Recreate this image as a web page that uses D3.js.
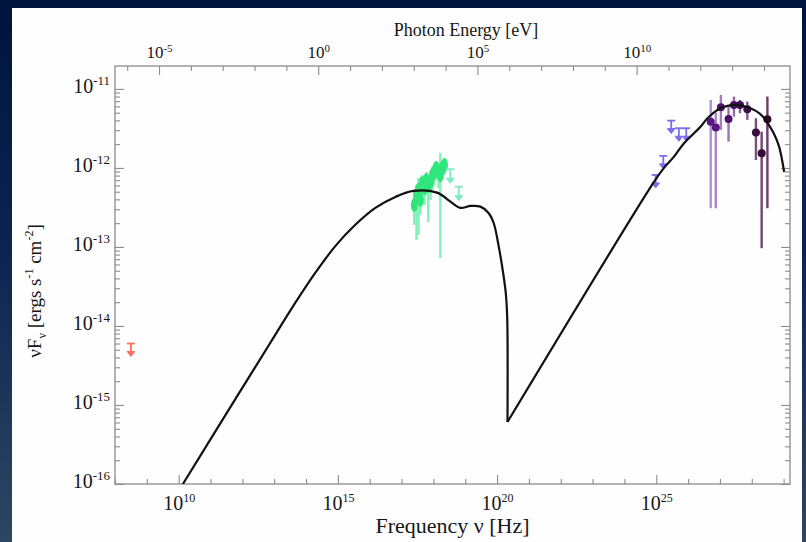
<!DOCTYPE html>
<html><head><meta charset="utf-8">
<script src="https://cdn.jsdelivr.net/npm/d3@7"></script>
<style>
html,body{margin:0;padding:0;}
body{width:806px;height:542px;overflow:hidden;background:linear-gradient(to bottom,#00143c 0%,#0a2450 45%,#2e4663 100%);}
svg{display:block;}
</style></head><body>
<svg id="c" width="806" height="542"></svg>
<script>
// ---------- DATA ----------
// SED model curve (log10 nu [Hz], log10 nuFnu [erg s^-1 cm^-2])
const syncLogNu = [10.0, 10.148, 11.827, 12.874, 13.660, 14.289, 14.918, 15.547, 16.176, 16.805, 17.371, 18.116, 18.535, 18.849, 19.164, 19.478, 19.739, 19.896, 20.053, 20.192, 20.274, 20.318, 20.327];
const syncLogF  = [-16.09, -15.991, -14.895, -14.215, -13.709, -13.329, -12.990, -12.720, -12.506, -12.367, -12.291, -12.313, -12.427, -12.505, -12.481, -12.490, -12.573, -12.700, -12.996, -13.333, -13.586, -13.882, -15.215];
const icLogNu = [20.327, 24.928, 25.242, 25.557, 25.871, 26.186, 26.396, 26.607, 26.921, 27.236, 27.550, 27.865, 28.126, 28.346, 28.535, 28.692, 28.858, 29.016];
const icLogF  = [-15.215, -12.177, -12.000, -11.857, -11.687, -11.561, -11.477, -11.371, -11.266, -11.215, -11.203, -11.232, -11.278, -11.348, -11.456, -11.563, -11.730, -12.051];

// radio upper limit
const radioNu = [3.16e8];
const radioF  = [6.0e-15];

// X-ray data (green)
const xrayNu = [2.51e17, 2.95e17, 3.39e17, 3.89e17, 4.47e17, 5.25e17, 6.03e17, 6.92e17, 8.13e17, 9.33e17, 1.07e18, 1.23e18, 1.45e18, 1.66e18, 1.91e18, 2.24e18];
const xrayF  = [3.40e-13, 4.55e-13, 5.27e-13, 3.94e-13, 6.46e-13, 5.58e-13, 7.05e-13, 5.92e-13, 6.65e-13, 8.15e-13, 8.89e-13, 1.00e-12, 8.89e-13, 8.15e-13, 1.00e-12, 1.09e-12];
const xrayHi = [5.27e-13, 6.10e-13, 7.46e-13, 5.92e-13, 8.15e-13, 7.46e-13, 8.89e-13, 7.92e-13, 8.89e-13, 1.03e-12, 1.09e-12, 1.19e-12, 1.16e-12, 1.55e-12, 1.26e-12, 1.34e-12];
const xrayLo = [1.90e-13, 1.23e-13, 1.42e-13, 2.54e-13, 3.94e-13, 3.40e-13, 4.55e-13, 2.07e-13, 3.94e-13, 5.27e-13, 6.10e-13, 7.05e-13, 5.58e-13, 7.26e-14, 7.46e-13, 8.15e-13];

// hard X-ray upper limits (teal)
const hxNu = [3.39e18, 6.31e18];
const hxF  = [9.64e-13, 5.79e-13];

// GeV upper limits (blue)
const gevNu = [9.55e24, 1.66e25, 2.95e25, 5.13e25, 8.71e25];
const gevF  = [8.15e-13, 1.42e-12, 3.97e-12, 3.18e-12, 3.18e-12];

// TeV data (purple)
const tevNu = [5.13e26, 7.41e26, 1.07e27, 1.86e27, 2.75e27, 4.27e27, 7.24e27, 1.35e28, 2.04e28, 3.09e28];
const tevF  = [3.85e-12, 3.24e-12, 5.86e-12, 4.17e-12, 6.27e-12, 6.27e-12, 5.53e-12, 2.80e-12, 1.53e-12, 4.13e-12];
const tevHi = [7.26e-12, 4.97e-12, 8.39e-12, 5.97e-12, 8.00e-12, 7.26e-12, 6.90e-12, 4.26e-12, 2.88e-12, 8.00e-12];
const tevLo = [3.09e-13, 3.09e-13, 3.03e-12, 2.15e-12, 4.46e-12, 4.92e-12, 4.06e-12, 1.26e-12, 9.64e-14, 3.09e-13];

// ticks
const xLabelExps = [10, 15, 20, 25];
const eLabelExps = [-5, 0, 5, 10];
const yLabelExps = [-16, -15, -14, -13, -12, -11];

const H_EV = 4.135667e-15; // eV s

// ---------- LAYOUT ----------
const L = 115, R = 790, T = 66, B = 484;
const serif = "'Liberation Serif','Times New Roman',Times,serif";
const ink = "#161616";

const svg = d3.select("#c");
const defs = svg.append("defs");
defs.append("clipPath").attr("id","plotclip").append("rect")
  .attr("x",L).attr("y",T).attr("width",R-L).attr("height",B-T);

// white panel
svg.append("rect").attr("x",12).attr("y",8).attr("width",790).attr("height",540).attr("fill","#fefefe");

const x = d3.scaleLog().domain([1e8, Math.pow(10,29.2)]).range([L,R]);
const xE = d3.scaleLog().domain([1e8*H_EV, Math.pow(10,29.2)*H_EV]).range([L,R]);
const y = d3.scaleLog().domain([1e-16, Math.pow(10,-10.71)]).range([B,T]);

function decadesIn(d){
  const out=[]; const a=Math.ceil(Math.log10(d[0])-1e-9), b=Math.floor(Math.log10(d[1])+1e-9);
  for(let e=a;e<=b;e++) out.push(e); return out;
}
function supLabel(sel, exp, base, sup, supDy){
  sel.text(null);
  sel.append("tspan").text("10").attr("font-size",base);
  sel.append("tspan").text(String(exp)).attr("font-size",sup).attr("dy",supDy);
}
const axisColor = "#8c8c8c";
function styleAxis(g){
  g.select(".domain").remove();
  g.selectAll(".tick line").attr("stroke",axisColor).attr("stroke-width",1.1);
  g.selectAll(".tick text").attr("fill",ink).attr("font-family",serif);
}

// bottom axis
const xAll = decadesIn(x.domain());
const xMinor = xAll.filter(e=>!xLabelExps.includes(e)).map(e=>Math.pow(10,e));
const gxm = svg.append("g").attr("transform",`translate(0,${B})`)
  .call(d3.axisBottom(x).tickValues(xMinor).tickSize(-5).tickSizeOuter(0).tickFormat(()=>""));
styleAxis(gxm);
const gx = svg.append("g").attr("transform",`translate(0,${B})`)
  .call(d3.axisBottom(x).tickValues(xLabelExps.map(e=>Math.pow(10,e))).tickSize(-9).tickSizeOuter(0).tickPadding(19));
styleAxis(gx);
gx.selectAll(".tick text").each(function(d){ supLabel(d3.select(this), Math.round(Math.log10(d)), 20, 12, -8); });

// top axis (photon energy)
const eAll = decadesIn(xE.domain());
const eMinor = eAll.filter(e=>!eLabelExps.includes(e)).map(e=>Math.pow(10,e));
const gem = svg.append("g").attr("transform",`translate(0,${T})`)
  .call(d3.axisTop(xE).tickValues(eMinor).tickSize(-5).tickSizeOuter(0).tickFormat(()=>""));
styleAxis(gem);
const ge = svg.append("g").attr("transform",`translate(0,${T})`)
  .call(d3.axisTop(xE).tickValues(eLabelExps.map(e=>Math.pow(10,e))).tickSize(-9).tickSizeOuter(0).tickPadding(8));
styleAxis(ge);
ge.selectAll(".tick text").each(function(d){ supLabel(d3.select(this), Math.round(Math.log10(d)), 17, 11, -6); });

// y axes
const yMinor = [];
for(let e=-17;e<=-11;e++) for(let k=2;k<=9;k++){ const v=k*Math.pow(10,e); if(v>y.domain()[0]&&v<y.domain()[1]) yMinor.push(v); }
const yMajor = yLabelExps.map(e=>Math.pow(10,e));
[[L,d3.axisLeft],[R,d3.axisRight]].forEach(([px,ax],i)=>{
  const gm = svg.append("g").attr("transform",`translate(${px},0)`)
    .call(ax(y).tickValues(yMinor).tickSize(-5).tickSizeOuter(0).tickFormat(()=>""));
  styleAxis(gm);
  const g = svg.append("g").attr("transform",`translate(${px},0)`)
    .call(ax(y).tickValues(yMajor).tickSize(-9).tickSizeOuter(0).tickPadding(5).tickFormat(i===0?null:()=>""));
  styleAxis(g);
  if(i===0) g.selectAll(".tick text").each(function(d){ supLabel(d3.select(this), Math.round(Math.log10(d)), 20, 13, -8); });
});

// frame
svg.append("rect").attr("x",L).attr("y",T).attr("width",R-L).attr("height",B-T)
  .attr("fill","none").attr("stroke",axisColor).attr("stroke-width",1.3);

// titles
svg.append("text").attr("x",466).attr("y",36).attr("text-anchor","middle")
  .attr("font-family",serif).attr("font-size",18).attr("fill",ink).text("Photon Energy [eV]");
svg.append("text").attr("x",(L+R)/2).attr("y",533).attr("text-anchor","middle")
  .attr("font-family",serif).attr("font-size",22).attr("fill",ink).text("Frequency ν [Hz]");
const yt = svg.append("text").attr("transform","translate(41,291) rotate(-90)").attr("text-anchor","middle")
  .attr("font-family",serif).attr("font-size",19).attr("fill",ink);
yt.append("tspan").text("νF");
yt.append("tspan").text("ν").attr("font-size",12).attr("dy",5);
yt.append("tspan").text(" [ergs s").attr("dy",-5);
yt.append("tspan").text("-1").attr("font-size",12).attr("dy",-8);
yt.append("tspan").text(" cm").attr("dy",8);
yt.append("tspan").text("-2").attr("font-size",12).attr("dy",-8);
yt.append("tspan").text("]").attr("dy",8);

const plot = svg.append("g").attr("clip-path","url(#plotclip)");

// upper limit helper
function upperLimits(nu, f, color, len){
  const g = plot.append("g");
  nu.forEach((n,i)=>{
    const cx = x(n), cy = y(f[i]), by = cy+len;
    g.append("line").attr("x1",cx-4).attr("x2",cx+4).attr("y1",cy).attr("y2",cy).attr("stroke",color).attr("stroke-width",1.8);
    g.append("line").attr("x1",cx).attr("x2",cx).attr("y1",cy).attr("y2",by-2).attr("stroke",color).attr("stroke-width",1.8);
    g.append("path").attr("d",`M${cx-3.8},${by-5}L${cx},${by}L${cx+3.8},${by-5}Z`).attr("fill",color).attr("stroke",color).attr("stroke-width",1);
  });
}

// X-ray data
const gx2 = plot.append("g");
xrayNu.forEach((n,i)=>{
  gx2.append("line").attr("x1",x(n)).attr("x2",x(n)).attr("y1",y(xrayHi[i])).attr("y2",y(xrayLo[i]))
    .attr("stroke","#86f2bb").attr("stroke-width",2.6);
});
xrayNu.forEach((n,i)=>{
  gx2.append("ellipse").attr("cx",x(n)).attr("cy",y(xrayF[i])).attr("rx",3.4).attr("ry",7).attr("fill","#2fe57c");
});
upperLimits(hxNu, hxF, "#7fe8c6", 14);
upperLimits(radioNu, radioF, "#ff6e5e", 13);
upperLimits(gevNu, gevF, "#7b6cf2", 13);

// TeV data
const barCol = d3.interpolateRgb("#b38fd3","#6a3c66");
const dotCol = d3.interpolateRgb("#5c1585","#2e0a28");
tevNu.forEach((n,i)=>{
  const t = i/(tevNu.length-1);
  plot.append("line").attr("x1",x(n)).attr("x2",x(n)).attr("y1",y(tevHi[i])).attr("y2",y(tevLo[i]))
    .attr("stroke",barCol(t)).attr("stroke-width",2.4);
});
tevNu.forEach((n,i)=>{
  const t = i/(tevNu.length-1);
  plot.append("circle").attr("cx",x(n)).attr("cy",y(tevF[i])).attr("r",4).attr("fill",dotCol(t));
});

// model curve
const line = d3.line().x(d=>x(Math.pow(10,d[0]))).y(d=>y(Math.pow(10,d[1]))).curve(d3.curveCatmullRom.alpha(0.5));
plot.append("path").datum(syncLogNu.map((v,i)=>[v,syncLogF[i]])).attr("d",line)
  .attr("fill","none").attr("stroke","#111").attr("stroke-width",2.2).attr("stroke-linejoin","round");
plot.append("path").datum(icLogNu.map((v,i)=>[v,icLogF[i]])).attr("d",line)
  .attr("fill","none").attr("stroke","#111").attr("stroke-width",2.2).attr("stroke-linejoin","round");
</script>
</body></html>
